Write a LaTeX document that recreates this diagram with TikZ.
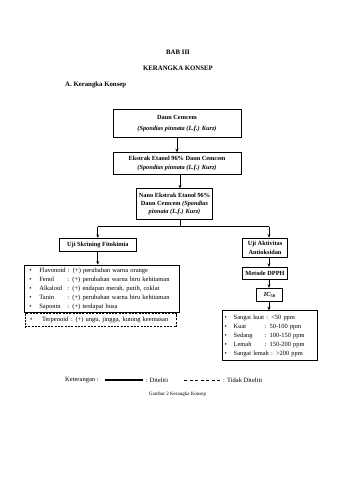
\documentclass[tikz,border=0pt]{standalone}
\usepackage{fontspec}
\setmainfont{Liberation Serif}
\usetikzlibrary{arrows.meta}
\newcommand{\boxfnt}{\fontsize{6.3}{8.3}\selectfont}
\newcommand{\listfnt}{\fontsize{6.5}{9}\selectfont}
\newcommand{\listfntR}{\fontsize{6.4}{9}\selectfont}
\newcommand{\lblL}[1]{\makebox[28pt][l]{#1}}
\newcommand{\lblR}[1]{\makebox[31pt][l]{#1}}
\newcommand{\bulL}{\makebox[10pt][l]{\textbullet}}
\newcommand{\bulR}{\makebox[9pt][l]{\textbullet}}
\tikzset{
  box/.style={draw, line width=0.9pt, align=center, inner sep=1pt, font=\boxfnt\bfseries},
  listbox/.style={draw, line width=0.9pt, align=left, inner xsep=5pt, inner ysep=1pt, font=\listfnt},
  dashbox/.style={listbox, dash pattern=on 2pt off 1.3pt},
  arr/.style={-{Stealth[length=3.5pt,width=3pt]}, line width=0.7pt},
  conn/.style={line width=0.7pt},
  title/.style={font=\fontsize{6.8}{8}\selectfont\bfseries, inner sep=0pt},
  legend/.style={font=\fontsize{6.5}{8}\selectfont, inner sep=0pt},
}
\begin{document}
\begin{tikzpicture}[x=1pt,y=-1pt]
\useasboundingbox[fill=white] (0,0) rectangle (339,480);

\node[title] (bab) at (178,52.7) {BAB III};
\node[title] (kk) at (178,68) {KERANGKA KONSEP};
\node[title, anchor=west] (sub) at (65,85) {A. Kerangka Konsep};

\node[box, minimum width=128pt, minimum height=28.4pt] (b1) at (177,123.5)
  {Daun Cemcem\\[3.5pt]\textit{(Spondias pinnata (L.f.) Kurz)}};
\node[box, minimum width=128pt, minimum height=21.6pt] (b2) at (177,163.5)
  {Ekstrak Etanol 96\% Daun Cemcem\\\textit{(Spondias pinnata (L.f.) Kurz)}};
\node[box, minimum width=75.6pt, minimum height=30.3pt] (b3) at (174.5,204)
  {Nano Ekstrak Etanol 96\%\\Daun Cemcem \textit{(Spondias}\\\textit{pinnata (L.f.) Kurz)}};

\coordinate (f1) at (180,226.7);
\coordinate (fl) at (97.8,226.7);
\coordinate (fr) at (269,226.7);

\node[box, minimum width=77.7pt, minimum height=13.4pt] (b4) at (97.8,245) {Uji Skrining Fitokimia};
\node[box, minimum width=44.6pt, minimum height=19.5pt] (b5) at (265,247.8) {Uji Aktivitas\\Antioksidan};

\node[listbox, text width=144.7pt, minimum height=47.7pt] (b6) at (101.7,288.9)
  {\bulL Flavonoid : (+) perubahan warna orange\\
   \bulL \lblL{Fenol}: (+) perubahan warna biru kehitaman\\
   \bulL \lblL{Alkaloid}: (+) endapan merah, putih, coklat\\
   \bulL \lblL{Tanin}: (+) perubahan warna biru kehitaman\\
   \bulL \lblL{Saponin}: (+) terdapat busa};
\node[dashbox, text width=141.7pt, minimum height=13.4pt] (b7) at (100.9,320.2)
  {\makebox[12pt][l]{\textbullet}Terpenoid : (+) ungu, jingga, kuning keemasan};

\node[box, minimum width=44.6pt, minimum height=12pt] (dp) at (265,273.3) {Metode DPPH};
\node[box, minimum width=26pt, minimum height=13.4pt] (ic) at (269.7,295) {\textit{IC}\textsubscript{50}};
\node[listbox, font=\listfntR, inner xsep=2pt, text width=90.6pt, minimum height=50pt] (b8) at (270,335.7)
  {\bulR Sangat kuat : <50 ppm\\
   \bulR \lblR{Kuat}: 50-100 ppm\\
   \bulR \lblR{Sedang}: 100-150 ppm\\
   \bulR \lblR{Lemah}: 150-200 ppm\\
   \bulR Sangat lemah : >200 ppm};

\draw[arr] (b1) -- (b2);
\draw[arr] (b2.south -| f1) -- (b3.north -| f1);
\draw[conn] (b3.south -| f1) -- (f1);
\draw[conn] (fl) -- (fr);
\draw[arr] (fl) -- (b4.north -| fl);
\draw[arr] (fr) -- (b5.north -| fr);
\draw[arr] (b4.south -| fl) -- (b6.north -| fl);
\draw[arr] (b5.south -| fr) -- (dp.north -| fr);
\draw[arr] (dp.south -| fr) -- (ic.north -| fr);
\draw[arr] (ic.south -| fr) -- (b8.north -| fr);

\node[legend, anchor=west] (ket) at (65,380) {Keterangan :};
\coordinate (s1) at (105,380);
\coordinate (s2) at (142.7,380);
\draw[line width=1.3pt] (s1) -- (s2);
\node[legend, anchor=west] (dit) at (145.5,380) {: Diteliti};
\coordinate (d1) at (184,380);
\coordinate (d2) at (221.5,380);
\draw[line width=1pt, dash pattern=on 3pt off 2.5pt] (d1) -- (d2);
\node[legend, anchor=west] (tdit) at (223,380) {: Tidak Diteliti};

\node[font=\fontsize{5}{6}\selectfont, inner sep=0pt] (cap) at (177.5,394.3) {Gambar 2 Kerangka Konsep};
\end{tikzpicture}
\end{document}
